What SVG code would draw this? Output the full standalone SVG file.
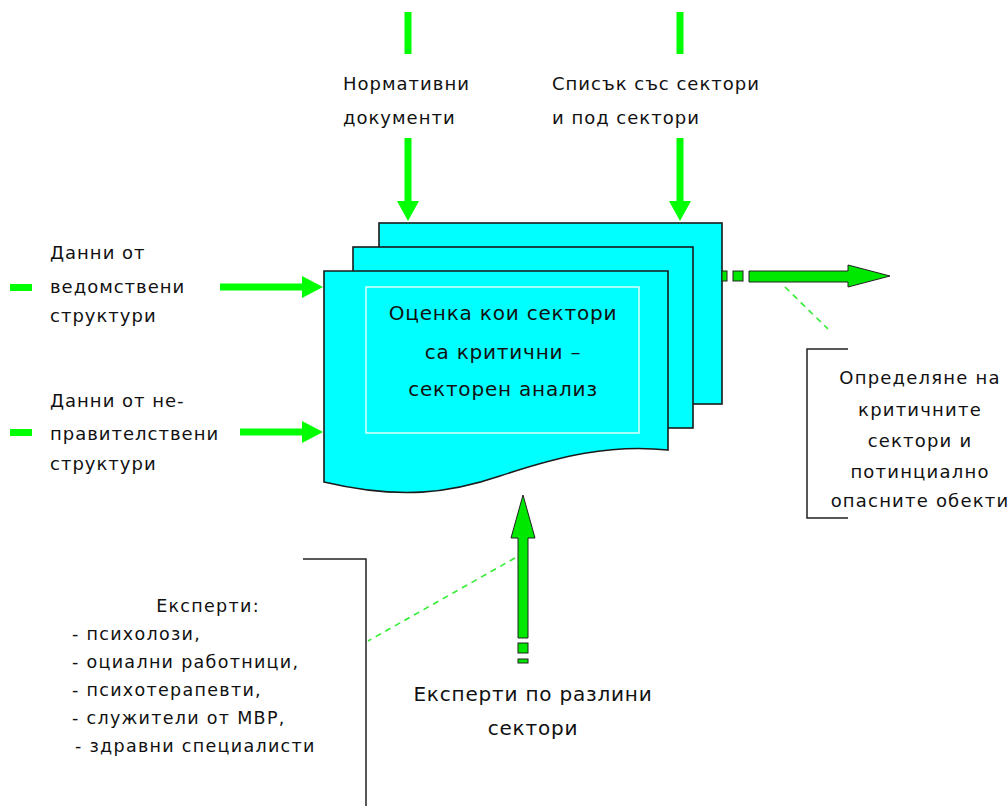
<svg xmlns="http://www.w3.org/2000/svg" width="1008" height="810" viewBox="0 0 1008 810">
<style>
.t{font-family:"DejaVu Sans",Verdana,sans-serif;font-size:18px;letter-spacing:1px;fill:#111}
.o{font-family:"DejaVu Sans",Verdana,sans-serif;font-size:18px;letter-spacing:1.2px;fill:#111}
.l{font-family:"DejaVu Sans",Verdana,sans-serif;font-size:17.5px;letter-spacing:1.3px;fill:#111}
.b{font-family:"DejaVu Sans",Verdana,sans-serif;font-size:20px;letter-spacing:0.8px;fill:#111}
.page{fill:#00ffff;stroke:#1a1a1a;stroke-width:1.6}
.g{stroke:#00ff00;stroke-width:7;fill:none}
.gh{fill:#00ff00}
.ga{fill:#00e800;stroke:#222;stroke-width:1}
.dash{stroke:#33ee33;stroke-width:1.6;stroke-dasharray:6,5;fill:none}
.br{stroke:#222;stroke-width:1.5;fill:none}
</style>
<rect width="1008" height="810" fill="#fff"/>
<g id="process">
<rect class="page" x="379" y="223" width="343" height="181"/>
<rect class="page" x="353" y="247" width="340" height="181"/>
<path class="page" d="M324,271 H668 V450 C610,444 560,456 500,476 C450,493 400,500 324,482 Z"/>
<rect x="366" y="287" width="273" height="146" fill="none" stroke="#fff" stroke-width="1.3"/>
<text class="b" x="503" y="320" text-anchor="middle">Оценка кои сектори</text>
<text class="b" x="503" y="359" text-anchor="middle">са критични –</text>
<text class="b" x="503" y="396" text-anchor="middle">секторен анализ</text>
</g>
<g id="connectors">
<line class="g" x1="408" y1="12" x2="408" y2="54"/>
<line class="g" x1="408" y1="138" x2="408" y2="203"/>
<polygon class="gh" points="397,201 419,201 408,221"/>
<line class="g" x1="680" y1="12" x2="680" y2="54"/>
<line class="g" x1="680" y1="138" x2="680" y2="203"/>
<polygon class="gh" points="669,201 691,201 680,221"/>
<rect class="gh" x="10" y="284" width="22" height="7"/>
<line class="g" x1="220" y1="287" x2="305" y2="287"/>
<polygon class="gh" points="302,276 302,298 323,287"/>
<rect class="gh" x="10" y="429" width="22" height="7"/>
<line class="g" x1="240" y1="432" x2="305" y2="432"/>
<polygon class="gh" points="302,421 302,443 323,432"/>
<rect class="ga" x="722" y="271" width="5" height="10"/>
<rect class="ga" x="733" y="271" width="10" height="10"/>
<path class="ga" d="M749,271 H848 V265 L890,276 L848,287 V282 H749 Z"/>
<line class="dash" x1="785" y1="287" x2="828" y2="329"/>
<path class="ga" d="M518,638 V538 H511 L523,495 L535,538 H528 V638 Z"/>
<rect class="ga" x="518" y="643" width="10" height="10"/>
<rect class="ga" x="518" y="659" width="10" height="4"/>
<line class="dash" x1="515" y1="558" x2="368" y2="641"/>
</g>
<g id="label-top1">
<text class="t" x="343" y="90">Нормативни</text>
<text class="t" x="343" y="124">документи</text>
</g>
<g id="label-top2">
<text class="t" x="552" y="90">Списък със сектори</text>
<text class="t" x="552" y="124">и под сектори</text>
</g>
<g id="label-left1">
<text class="t" x="50" y="259">Данни от</text>
<text class="t" x="50" y="293">ведомствени</text>
<text class="t" x="50" y="322">структури</text>
</g>
<g id="label-left2">
<text class="t" x="50" y="407">Данни от не-</text>
<text class="t" x="50" y="440">правителствени</text>
<text class="t" x="50" y="470">структури</text>
</g>
<g id="label-output">
<path class="br" d="M848,349 H807 V518 H848"/>
<text class="o" x="920" y="384" text-anchor="middle">Определяне на</text>
<text class="o" x="920" y="416" text-anchor="middle">критичните</text>
<text class="o" x="920" y="447" text-anchor="middle">сектори и</text>
<text class="o" x="920" y="478" text-anchor="middle">потинциално</text>
<text class="o" x="920" y="507" text-anchor="middle">опасните обекти</text>
</g>
<g id="label-experts">
<path class="br" d="M303,559 H366 V806"/>
<text class="l" x="208" y="612" text-anchor="middle">Експерти:</text>
<text class="l" x="72" y="640">- психолози,</text>
<text class="l" x="72" y="668">- оциални работници,</text>
<text class="l" x="72" y="696">- психотерапевти,</text>
<text class="l" x="72" y="724">- служители от МВР,</text>
<text class="l" x="75" y="752">- здравни специалисти</text>
</g>
<g id="label-mechanism">
<text class="b" x="533" y="701" text-anchor="middle">Експерти по разлини</text>
<text class="b" x="533" y="735" text-anchor="middle">сектори</text>
</g>
</svg>
